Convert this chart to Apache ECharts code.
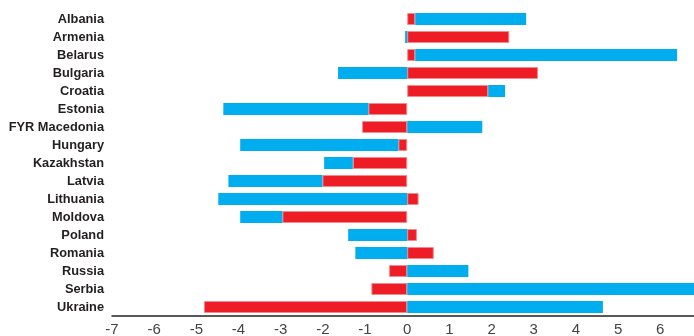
<!DOCTYPE html>
<html><head><meta charset="utf-8">
<script src="https://cdn.jsdelivr.net/npm/echarts@6/dist/echarts.min.js"></script>
<style>html,body{margin:0;padding:0;background:#fff}#c{width:694px;height:336px}</style>
</head><body><div id="c"></div>
<script>
const categories = ["Albania","Armenia","Belarus","Bulgaria","Croatia","Estonia","FYR Macedonia","Hungary","Kazakhstan","Latvia","Lithuania","Moldova","Poland","Romania","Russia","Serbia","Ukraine"];
const redValues  = [0.19, 2.42, 0.19, 3.10, 1.92, -0.92, -1.07, -0.21, -1.29, -2.01, 0.27, -2.96, 0.23, 0.63, -0.43, -0.85, -4.82];
const blueValues = [2.63, -0.05, 6.21, -1.64, 0.40, -3.44, 1.78, -3.75, -0.68, -2.23, -4.48, -1.00, -1.40, -1.23, 1.45, 6.80, 4.64];
const xTicks = [-7,-6,-5,-4,-3,-2,-1,0,1,2,3,4,5,6];

const chart = echarts.init(document.getElementById('c'));
chart.setOption({
  animation: false,
  grid: {left: 112, right: 0, top: 10, bottom: 20, containLabel: false, outerBoundsMode: 'none'},
  xAxis: {
    type: 'value', min: -7, max: 6.8, interval: 1,
    splitLine: {show: false},
    axisTick: {show: false},
    axisLine: {show: true, lineStyle: {color: '#222', width: 1.5}},
    axisLabel: {
      color: '#444', fontSize: 15, fontFamily: 'Liberation Sans, Arial', margin: 6,
      formatter: v => xTicks.includes(v) ? String(v) : ''
    }
  },
  yAxis: {
    type: 'category', data: categories, inverse: true,
    axisLine: {show: false}, axisTick: {show: false},
    axisLabel: {color: '#231f20', fontSize: 12.8, fontWeight: 'bold', fontFamily: 'Liberation Sans, Arial', margin: 8}
  },
  series: [
    {name: 'red', type: 'bar', stack: 'a', data: redValues, barWidth: 12,
     itemStyle: {color: '#ee1d25', borderColor: '#f28a8e', borderWidth: 1}},
    {name: 'blue', type: 'bar', stack: 'a', data: blueValues, barWidth: 12,
     itemStyle: {color: '#00adef'}}
  ]
});
</script></body></html>
